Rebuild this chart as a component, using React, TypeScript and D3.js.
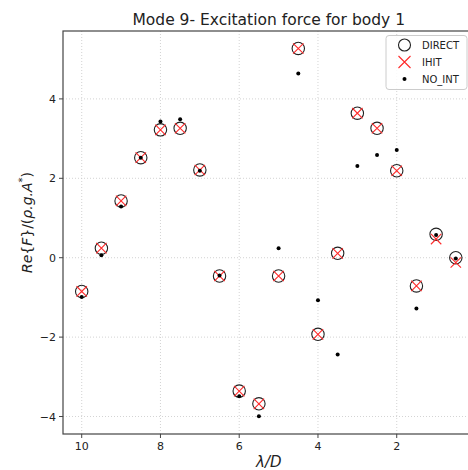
import React from "react";
import * as d3 from "d3";

const lambdaD = [10, 9.5, 9, 8.5, 8, 7.5, 7, 6.5, 6, 5.5, 5, 4.5, 4, 3.5, 3, 2.5, 2, 1.5, 1, 0.5];
const direct = [-0.85, 0.24, 1.43, 2.52, 3.22, 3.26, 2.21, -0.46, -3.36, -3.68, -0.46, 5.27, -1.93, 0.11, 3.64, 3.26, 2.19, -0.71, 0.59, 0.0];
const ihit = [-0.85, 0.24, 1.43, 2.52, 3.22, 3.26, 2.21, -0.46, -3.36, -3.68, -0.46, 5.27, -1.93, 0.11, 3.64, 3.26, 2.19, -0.71, 0.47, -0.12];
const noInt = [-0.99, 0.06, 1.29, 2.52, 3.43, 3.49, 2.19, -0.45, -3.49, -3.99, 0.24, 4.64, -1.07, -2.44, 2.31, 2.59, 2.71, -1.28, 0.57, -0.02];
const xTicks = [10, 8, 6, 4, 2];
const yTicks = [-4, -2, 0, 2, 4];
const legendItems = ["DIRECT", "IHIT", "NO_INT"];

const W = 468;
const H = 470;
const L = 63, R = 474.5, T = 31, B = 434;

export default function App() {
  const x = d3.scaleLinear().domain([10.475, 0.025]).range([L, R]);
  const y = d3.scaleLinear().domain([-4.44, 5.71]).range([B, T]);
  const font = "DejaVu Sans, sans-serif";
  const red = "#ff2a2a";
  const xs = 5.2;
  return (
    <svg width={W} height={H} style={{ position: "absolute", left: 0, top: 0, background: "#fff" }}>
      <defs>
        <clipPath id="clip">
          <rect x={L} y={T} width={R - L} height={B - T} />
        </clipPath>
      </defs>
      {/* grid */}
      {xTicks.map((t) => (
        <line key={"gx" + t} x1={x(t)} x2={x(t)} y1={T} y2={B} stroke="#c8c8c8" strokeWidth={0.8} strokeDasharray="1,2" />
      ))}
      {yTicks.map((t) => (
        <line key={"gy" + t} x1={L} x2={R} y1={y(t)} y2={y(t)} stroke="#c8c8c8" strokeWidth={0.8} strokeDasharray="1,2" />
      ))}
      {/* frame */}
      <rect x={L} y={T} width={R - L} height={B - T} fill="none" stroke="#444" strokeWidth={1.2} />
      {/* ticks */}
      {xTicks.map((t) => (
        <g key={"tx" + t}>
          <line x1={x(t)} x2={x(t)} y1={B} y2={B + 4} stroke="#444" strokeWidth={1} />
          <text x={x(t)} y={B + 16} textAnchor="middle" fontFamily={font} fontSize={11} fill="#222">{t}</text>
        </g>
      ))}
      {yTicks.map((t) => (
        <g key={"ty" + t}>
          <line x1={L - 4} x2={L} y1={y(t)} y2={y(t)} stroke="#444" strokeWidth={1} />
          <text x={L - 7} y={y(t) + 4} textAnchor="end" fontFamily={font} fontSize={11} fill="#222">{t < 0 ? "\u2212" + Math.abs(t) : t}</text>
        </g>
      ))}
      {/* markers */}
      <g clipPath="url(#clip)">
        {lambdaD.map((l, i) => (
          <circle key={"d" + i} cx={x(l)} cy={y(direct[i])} r={6.2} fill="none" stroke="#222" strokeWidth={1.1} />
        ))}
        {lambdaD.map((l, i) => {
          const cx = x(l), cy = y(ihit[i]);
          return (
            <path key={"i" + i} d={`M${cx - xs},${cy - xs}L${cx + xs},${cy + xs}M${cx - xs},${cy + xs}L${cx + xs},${cy - xs}`} stroke={red} strokeWidth={1.1} fill="none" />
          );
        })}
        {lambdaD.map((l, i) => (
          <circle key={"n" + i} cx={x(l)} cy={y(noInt[i])} r={2} fill="#000" />
        ))}
      </g>
      {/* title */}
      <text x={(L + R) / 2} y={24.5} textAnchor="middle" fontFamily={font} fontSize={15.5} fill="#222">Mode 9- Excitation force for body 1</text>
      {/* x label */}
      <text x={(L + R) / 2} y={467} textAnchor="middle" fontFamily={font} fontSize={15} fontStyle="italic" fill="#222">λ/D</text>
      {/* y label */}
      <text transform={`translate(32,${(T + B) / 2 - 10}) rotate(-90)`} textAnchor="middle" fontFamily={font} fontSize={14} fill="#222">
        <tspan fontStyle="italic">Re</tspan>
        <tspan>{"{"}</tspan>
        <tspan fontStyle="italic">F</tspan>
        <tspan>{"}/("}</tspan>
        <tspan fontStyle="italic">ρ.g.A</tspan>
        <tspan fontSize={10} dy={-6}>*</tspan>
        <tspan dy={6}>)</tspan>
      </text>
      {/* legend */}
      <g>
        <rect x={386} y={35.5} width={81} height={54} rx={3} fill="#fff" fillOpacity={0.85} stroke="#ccc" strokeWidth={1} />
        {legendItems.map((name, i) => {
          const cy = 45 + i * 17;
          const cx = 404.5;
          return (
            <g key={name}>
              {i === 0 && <circle cx={cx} cy={cy} r={6} fill="none" stroke="#222" strokeWidth={1.1} />}
              {i === 1 && (
                <path d={`M${cx - 6},${cy - 6}L${cx + 6},${cy + 6}M${cx - 6},${cy + 6}L${cx + 6},${cy - 6}`} stroke={red} strokeWidth={1.1} />
              )}
              {i === 2 && <circle cx={cx} cy={cy} r={2} fill="#000" />}
              <text x={422} y={cy + 3.5} fontFamily={font} fontSize={10} fill="#222">{name}</text>
            </g>
          );
        })}
      </g>
    </svg>
  );
}
